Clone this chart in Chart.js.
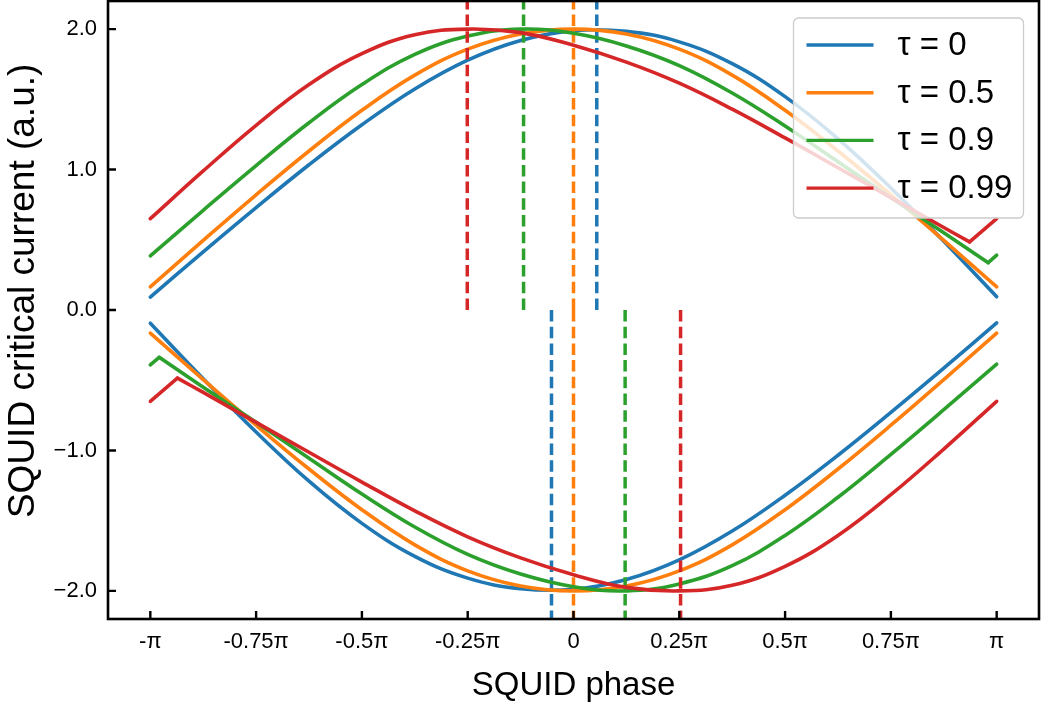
<!DOCTYPE html>
<html>
<head>
<meta charset="utf-8">
<script src="https://cdn.jsdelivr.net/npm/chart.js@4.4.1/dist/chart.umd.min.js"></script>
<style>
  html, body { margin: 0; padding: 0; background: #fff; }
  canvas { display: block; }
</style>
</head>
<body>
<canvas id="squidChart" width="1042" height="707"></canvas>
<script>
// SQUID phase samples (in units of pi)
const phase = [-1, -0.875, -0.75, -0.625, -0.5, -0.375, -0.25, -0.125, 0, 0.125, 0.25, 0.375, 0.5, 0.625, 0.75, 0.875, 1];

// upper branch
const upperT0   = [0.092, 0.414, 0.729, 1.034, 1.319, 1.574, 1.779, 1.919, 1.989, 1.984, 1.909, 1.754, 1.519, 1.219, 0.869, 0.489, 0.094];
const upperT05  = [0.165, 0.495, 0.82, 1.132, 1.422, 1.672, 1.857, 1.965, 2.0, 1.965, 1.857, 1.672, 1.422, 1.132, 0.82, 0.495, 0.165];
const upperT09  = [0.385, 0.71, 1.028, 1.333, 1.605, 1.82, 1.95, 2.0, 1.97, 1.88, 1.74, 1.545, 1.31, 1.055, 0.80, 0.55, 0.39];
const upperT099 = [0.65, 0.99, 1.315, 1.605, 1.825, 1.96, 2.0, 1.975, 1.885, 1.765, 1.615, 1.43, 1.225, 1.013, 0.80, 0.587, 0.65];

// lower branch
const lowerT0   = [-0.094, -0.489, -0.869, -1.219, -1.519, -1.754, -1.909, -1.984, -1.989, -1.919, -1.779, -1.574, -1.319, -1.034, -0.729, -0.414, -0.092];
const lowerT05  = [-0.165, -0.495, -0.82, -1.132, -1.422, -1.672, -1.857, -1.965, -2.0, -1.965, -1.857, -1.672, -1.422, -1.132, -0.82, -0.495, -0.165];
const lowerT09  = [-0.39, -0.55, -0.80, -1.055, -1.31, -1.545, -1.74, -1.88, -1.97, -2.0, -1.95, -1.82, -1.605, -1.333, -1.028, -0.71, -0.385];
const lowerT099 = [-0.65, -0.587, -0.80, -1.013, -1.225, -1.43, -1.615, -1.765, -1.885, -1.975, -2.0, -1.96, -1.825, -1.605, -1.315, -0.99, -0.65];

// kinks near the ends (branch switch) for tau = 0.9 and 0.99
const kinkPhaseUpper = [null, null, 0.98, 0.936];
const kinkUpper      = [null, null, 0.337, 0.485];
const kinkPhaseLower = [null, null, -0.979, -0.936];
const kinkLower      = [null, null, -0.337, -0.485];

// phase of the maximum |Ic| (dashed markers)
const peakUpper = [0.055, 0.0, -0.118, -0.251];
const peakLower = [-0.052, 0.0, 0.122, 0.253];

const tauLabels = ["τ = 0", "τ = 0.5", "τ = 0.9", "τ = 0.99"];
const colors = ["#1f77b4", "#ff7f0e", "#2ca02c", "#d62728"];

const xTicks = [-1, -0.75, -0.5, -0.25, 0, 0.25, 0.5, 0.75, 1];
const xTickLabels = ["-π", "-0.75π", "-0.5π", "-0.25π", "0", "0.25π", "0.5π", "0.75π", "π"];
const yTicks = [-2, -1, 0, 1, 2];
const yTickLabels = ["−2.0", "−1.0", "0.0", "1.0", "2.0"];

const FONT = "'Liberation Sans', Arial, Helvetica, sans-serif";

const upperSets = [upperT0, upperT05, upperT09, upperT099];
const lowerSets = [lowerT0, lowerT05, lowerT09, lowerT099];

function toPoints(xs, ys) {
  return xs.map((x, i) => ({ x: x, y: ys[i] }));
}

function solid(points, i, tension) {
  return {
    data: points,
    borderColor: colors[i],
    borderWidth: 3.6,
    pointRadius: 0,
    tension: tension,
    fill: false,
    borderCapStyle: "round",
    borderJoinStyle: "round",
    order: (3 - i) * 10 + 2,
  };
}

function dashed(x, yEnd, i) {
  return {
    data: [{ x: x, y: 0 }, { x: x, y: yEnd }],
    borderColor: colors[i],
    borderWidth: 3.5,
    borderDash: [11.5, 5.2],
    pointRadius: 0,
    tension: 0,
    fill: false,
    order: (3 - i) * 10 + 1,
  };
}

const datasets = [];
for (let i = 0; i < 4; i++) {
  const up = toPoints(phase, upperSets[i]);
  const lo = toPoints(phase, lowerSets[i]);
  if (kinkPhaseUpper[i] !== null) {
    // upper: kink sits between the last two samples
    const ku = { x: kinkPhaseUpper[i], y: kinkUpper[i] };
    datasets.push(solid(up.slice(0, -1).concat([ku]), i, 0.4));
    datasets.push(solid([ku, up[up.length - 1]], i, 0));
    // lower: kink sits between the first two samples
    const kl = { x: kinkPhaseLower[i], y: kinkLower[i] };
    datasets.push(solid([kl].concat(lo.slice(1)), i, 0.4));
    datasets.push(solid([lo[0], kl], i, 0));
  } else {
    datasets.push(solid(up, i, 0.4));
    datasets.push(solid(lo, i, 0.4));
  }
  datasets.push(dashed(peakUpper[i], 2.3, i));
  datasets.push(dashed(peakLower[i], -2.3, i));
}

// box frame + inward ticks, matplotlib style
const framePlugin = {
  id: "frame",
  afterDatasetsDraw(chart) {
    const { ctx, chartArea: a, scales } = chart;
    ctx.save();
    ctx.strokeStyle = "#000";
    ctx.lineWidth = 2.6;
    ctx.strokeRect(a.left, a.top, a.right - a.left, a.bottom - a.top);
    ctx.lineWidth = 2.4;
    ctx.beginPath();
    xTicks.forEach((v) => {
      const px = scales.x.getPixelForValue(v);
      ctx.moveTo(px, a.bottom);
      ctx.lineTo(px, a.bottom - 8);
    });
    yTicks.forEach((v) => {
      const py = scales.y.getPixelForValue(v);
      ctx.moveTo(a.left, py);
      ctx.lineTo(a.left + 8, py);
    });
    ctx.stroke();
    ctx.restore();
  },
};

// legend box in the upper right of the axes
const legendPlugin = {
  id: "boxLegend",
  afterDraw(chart) {
    const { ctx, chartArea: a } = chart;
    const w = 230, h = 200;
    const x0 = a.right - 15.5 - w;
    const y0 = a.top + 17;
    ctx.save();
    ctx.fillStyle = "rgba(255,255,255,0.8)";
    ctx.strokeStyle = "#cccccc";
    ctx.lineWidth = 1.3;
    ctx.beginPath();
    ctx.roundRect(x0, y0, w, h, 5);
    ctx.fill();
    ctx.stroke();
    ctx.font = "33px " + FONT;
    ctx.textBaseline = "middle";
    ctx.fillStyle = "#000";
    tauLabels.forEach((label, i) => {
      const y = y0 + 27 + i * 47.7;
      ctx.strokeStyle = colors[i];
      ctx.lineWidth = 3.4;
      ctx.beginPath();
      ctx.moveTo(x0 + 13, y);
      ctx.lineTo(x0 + 80, y);
      ctx.stroke();
      ctx.fillText(label, x0 + 104, y + 1);
    });
    ctx.restore();
  },
};

new Chart(document.getElementById("squidChart"), {
  type: "line",
  data: { datasets: datasets },
  options: {
    responsive: false,
    animation: false,
    layout: { padding: { top: 1, right: 3, left: 0, bottom: 0 } },
    plugins: {
      legend: { display: false },
      tooltip: { enabled: false },
    },
    scales: {
      x: {
        type: "linear",
        min: -1.1,
        max: 1.1,
        afterFit: (scale) => {
          scale.height = 88;
          scale.paddingLeft = 0;
          scale.paddingRight = 0;
        },
        afterBuildTicks: (scale) => { scale.ticks = xTicks.map((v) => ({ value: v })); },
        grid: { display: false, drawTicks: false },
        border: { display: false },
        ticks: {
          padding: 10,
          color: "#000",
          font: { family: FONT, size: 22 },
          maxRotation: 0,
          callback: (v) => xTickLabels[xTicks.indexOf(v)],
        },
        title: {
          display: true,
          text: "SQUID phase",
          color: "#000",
          font: { family: FONT, size: 33, lineHeight: 1 },
          padding: { top: 0, bottom: 5 },
        },
      },
      y: {
        type: "linear",
        min: -2.2,
        max: 2.2,
        afterFit: (scale) => {
          scale.width = 108;
          scale.paddingTop = 0;
          scale.paddingBottom = 0;
        },
        afterBuildTicks: (scale) => { scale.ticks = yTicks.map((v) => ({ value: v })); },
        grid: { display: false, drawTicks: false },
        border: { display: false },
        ticks: {
          padding: 11,
          color: "#000",
          font: { family: FONT, size: 22 },
          callback: (v) => yTickLabels[yTicks.indexOf(v)],
        },
        title: {
          display: true,
          // leading blanks nudge the centred label a little towards the top
          text: "\u00a0\u00a0\u00a0\u2009SQUID critical current (a.u.)",
          color: "#000",
          font: { family: FONT, size: 37, lineHeight: 1 },
          padding: { top: 5, bottom: 0 },
        },
      },
    },
  },
  plugins: [framePlugin, legendPlugin],
});
</script>
</body>
</html>
